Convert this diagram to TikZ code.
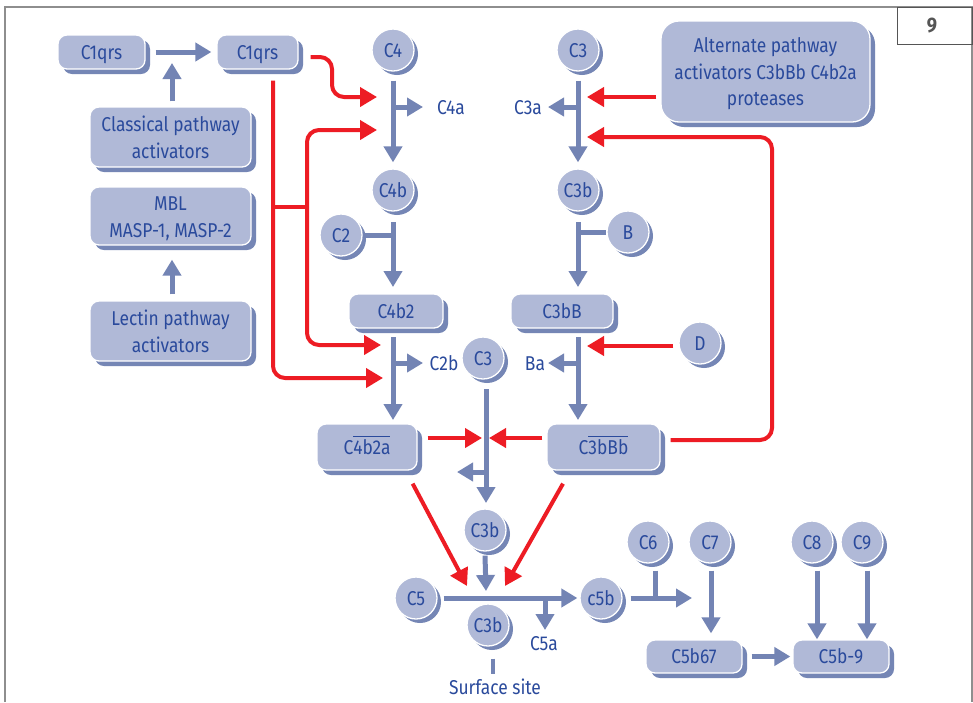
\documentclass[tikz,border=0pt]{standalone}
\usepackage{fontspec}
\setmainfont[FakeStretch=0.87]{Fira Sans}
\usetikzlibrary{arrows.meta,shadows}
\definecolor{boxc}{HTML}{B0B9D7}
\definecolor{shc}{HTML}{7586B5}
\definecolor{txtc}{HTML}{2A4A9C}
\definecolor{arc}{HTML}{7384B4}
\definecolor{redc}{HTML}{ED1C24}
\definecolor{framec}{HTML}{8E8E8E}
\definecolor{ninec}{HTML}{555555}
\newcommand\ovbar[1]{\setbox0\hbox{#1}\rlap{\raisebox{\dimexpr\ht0+1.8pt\relax}{\rule{\wd0}{1.6pt}}}\box0}
\newcommand\topstrut{\rule{0pt}{23.5pt}}
\begin{document}
\begin{tikzpicture}[x=1pt,y=-1pt,
  every node/.style={text=txtc, font=\fontsize{20}{26.5}\selectfont},
  one/.style={text height=14pt, text depth=0pt},
  box/.style={rectangle, rounded corners=9pt, fill=boxc, draw=white, line width=1.3pt, align=center, inner sep=0pt,
    general shadow={fill=shc, shadow xshift=5pt, shadow yshift=-5pt}},
  ball/.style={circle, fill=boxc, draw=white, line width=1.3pt, inner sep=0pt, minimum size=42pt, one,
    general shadow={fill=shc, shadow xshift=4pt, shadow yshift=-4pt}},
  lbl/.style={inner sep=0pt, one},
  barrow/.style={draw=arc, line width=5pt, -{Triangle[length=16pt,width=18pt]}},
  bline/.style={draw=arc, line width=5pt},
  rarrow/.style={draw=redc, line width=4pt, -{Triangle[length=17pt,width=19pt]}},
  rline/.style={draw=redc, line width=4pt},
]
\useasboundingbox (0,0) rectangle (973,702);
\fill[white] (0,0) rectangle (973,702);
% frame
\draw[framec, line width=2pt] (5,702) -- (5,7) -- (972,7) -- (972,702);
\draw[ninec, line width=1pt] (897,7) rectangle (972,44);
\node[text=ninec, font=\bfseries\fontsize{21}{21}\selectfont, one, inner sep=0pt] (nine) at (932,25) {9};

% boxes
\node[box, one, minimum width=87pt, minimum height=34pt] (c1a) at (101.5,52) {C1qrs};
\node[box, one, minimum width=81pt, minimum height=34pt] (c1b) at (257.5,52) {C1qrs};
\node[box, minimum width=161pt, minimum height=60pt] (cpa) at (170.5,137) {\topstrut Classical pathway\\\strut activators};
\node[box, minimum width=161pt, minimum height=58pt] (mbl) at (170.5,216) {\topstrut MBL\\\strut MASP-1, MASP-2};
\node[box, minimum width=161pt, minimum height=60pt] (lpa) at (170.5,331) {\topstrut Lectin pathway\\\strut activators};
\node[box, rounded corners=18pt, minimum width=209pt, minimum height=101pt] (alt) at (765.5,71.5) {\topstrut Alternate pathway\\\strut activators C3bBb C4b2a\\\strut proteases};
\node[box, one, minimum width=94pt, minimum height=34pt] (c4b2) at (396,311) {C4b2};
\node[box, one, minimum width=102pt, minimum height=34pt] (c3bB) at (562,311) {C3bB};
\node[box, one, minimum width=100pt, minimum height=46pt] (c4b2a) at (367,447) {C\ovbar{4b2a}};
\node[box, one, minimum width=113pt, minimum height=46pt] (c3bBb) at (603.5,447) {C\ovbar{3bBb}};
\node[box, one, minimum width=96pt, minimum height=33pt] (c5b67) at (694,656.5) {C5b67};
\node[box, one, minimum width=96pt, minimum height=33pt] (c5b9) at (841,656.5) {C5b-9};

% balls
\node[ball] (C4) at (393,50) {C4};
\node[ball] (C3t) at (578,50) {C3};
\node[ball] (C4b) at (393,190) {C4b};
\node[ball] (C3b) at (578,190) {C3b};
\node[ball] (C2) at (341,235) {C2};
\node[ball] (B) at (628,232) {B};
\node[ball] (D) at (700,343) {D};
\node[ball] (C3m) at (483,358) {C3};
\node[ball] (C3bl) at (485,530) {C3b};
\node[ball] (C5) at (416,598) {C5};
\node[ball] (c5b) at (601,598) {c5b};
\node[ball] (C3bs) at (488,625) {C3b};
\node[ball] (C6) at (648,542) {C6};
\node[ball] (C7) at (710,542) {C7};
\node[ball] (C8) at (812,542) {C8};
\node[ball] (C9) at (862,542) {C9};

% labels
\node[lbl] (l4a) at (451,107) {C4a};
\node[lbl] (l3a) at (528,107) {C3a};
\node[lbl] (l2b) at (444,363) {C2b};
\node[lbl] (lba) at (535,363) {Ba};
\node[lbl] (l5a) at (544,643) {C5a};
\node[lbl] (lss) at (495,687) {Surface site};

% coordinates
\coordinate (tcp) at (172,63);
\coordinate (j4a) at (393,107);
\coordinate (t4a) at (423,107);
\coordinate (j3a) at (578,107);
\coordinate (t3a) at (548,107);
\coordinate (r4a) at (377,97);
\coordinate (k4a) at (332,57);
\coordinate (r4b) at (377,130);
\coordinate (jr) at (307,207);
\coordinate (jr0) at (275,207);
\coordinate (r2a) at (381,345);
\coordinate (r2b) at (383,378);
\coordinate (r3a) at (587,97);
\coordinate (r3b) at (587,137);
\coordinate (k3) at (772,137);
\coordinate (rD) at (587,346);
\coordinate (s4b) at (393,222);
\coordinate (t4b) at (393,287);
\coordinate (s3b) at (578,222);
\coordinate (t3b) at (578,287);
\coordinate (s42) at (393,337);
\coordinate (t42) at (393,420);
\coordinate (j2b) at (393,363);
\coordinate (t2b) at (423,363);
\coordinate (s3B) at (578,337);
\coordinate (t3B) at (578,420);
\coordinate (jba) at (578,363);
\coordinate (tba) at (548,363);
\coordinate (s3m) at (486,389);
\coordinate (t3m) at (486,503);
\coordinate (j3m) at (486,472);
\coordinate (t3ml) at (457,472);
\coordinate (rc1) at (482,438);
\coordinate (rc2) at (489,438);
\coordinate (rd1) at (467,586);
\coordinate (rd2) at (505,586);
\coordinate (t5) at (486,591);
\coordinate (j5a) at (545,598);
\coordinate (t5a) at (545,630);
\coordinate (t6) at (692,598);
\coordinate (j6) at (655,598);

% top-left connectors
\draw[barrow] ([xshift=10pt]c1a.east) -- ([xshift=-5pt]c1b.west);
\draw[barrow] ([shift={(1.5pt,5pt)}]cpa.north) -- (tcp);
\draw[barrow] ([shift={(1.5pt,6pt)}]lpa.north) -- ([shift={(1.5pt,-14pt)}]mbl.south);

% red classical paths
\draw[rarrow, rounded corners=12pt] ([shift={(12pt,-5pt)}]c1b.east) -- (k4a) |- (r4a);
\draw[rarrow, rounded corners=12pt] ([shift={(15.5pt,-11pt)}]c1b.south) |- (r2b);
\draw[rline] (jr0) -- (jr);
\draw[rarrow, rounded corners=12pt] (jr) |- (r4b);
\draw[rarrow, rounded corners=12pt] (jr) |- (r2a);

% C4 column
\draw[barrow] ([yshift=-9pt]C4.south) -- ([yshift=6pt]C4b.north);
\draw[barrow] (j4a) -- (t4a);
\draw[bline] (C2.east) -- (C2.east -| s4b);
\draw[barrow] (s4b) -- (t4b);
\draw[barrow] (s42) -- (t42);
\draw[barrow] (j2b) -- (t2b);

% C3 column
\draw[barrow] ([yshift=-9pt]C3t.south) -- ([yshift=6pt]C3b.north);
\draw[barrow] (j3a) -- (t3a);
\draw[rarrow] ([shift={(-4pt,-25.5pt)}]alt.west) -- (r3a);
\draw[rarrow, rounded corners=12pt] ([shift={(10pt,7pt)}]c3bBb.east) -| (k3) -- (r3b);
\draw[bline] (B.west -| s3b) -- (B.west);
\draw[barrow] (s3b) -- (t3b);
\draw[barrow] (s3B) -- (t3B);
\draw[barrow] (jba) -- (tba);
\draw[rarrow] ([shift={(-5pt,-3pt)}]D.west) -- (rD);

% centre
\draw[barrow] (s3m) -- (t3m);
\draw[barrow] (j3m) -- (t3ml);
\draw[rarrow] ([shift={(10pt,9pt)}]c4b2a.east) -- (rc1);
\draw[rarrow] ([shift={(-4pt,9pt)}]c3bBb.west) -- (rc2);
\draw[rarrow] ([shift={(-5pt,-13pt)}]c4b2a.south east) -- (rd1);
\draw[rarrow] ([shift={(-40.5pt,-13pt)}]c3bBb.south) -- (rd2);
\draw[barrow] ([yshift=-4pt]C3bl.south) -- (t5);

% bottom
\draw[barrow] ([xshift=6pt]C5.east) -- ([xshift=-2pt]c5b.west);
\draw[barrow] (j5a) -- (t5a);
\draw[draw=arc, line width=4pt] ([shift={(5pt,-12pt)}]C3bs.south) -- ([shift={(5pt,-27pt)}]C3bs.south);
\draw[barrow] ([xshift=8pt]c5b.east) -- (t6);
\draw[bline] ([shift={(7pt,-7pt)}]C6.south) -- (j6);
\draw[barrow] ([shift={(1pt,-7pt)}]C7.south) -- ([shift={(1pt,6pt)}]C7.south |- c5b67.north);
\draw[barrow] ([shift={(5pt,-7pt)}]C8.south) -- ([xshift=5pt]C8.south |- c5b9.north);
\draw[barrow] ([shift={(5pt,-7pt)}]C9.south) -- ([xshift=5pt]C9.south |- c5b9.north);
\draw[barrow] ([xshift=9pt]c5b67.east) -- ([xshift=-2pt]c5b9.west);
\end{tikzpicture}
\end{document}
